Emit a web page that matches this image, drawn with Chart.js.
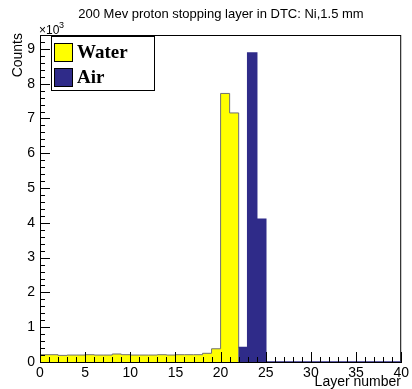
<!DOCTYPE html>
<html>
<head>
<meta charset="utf-8">
<script src="https://cdn.jsdelivr.net/npm/chart.js@4/dist/chart.umd.min.js"></script>
<style>
  html, body { margin: 0; background: #fff; }
  canvas { display: block; }
</style>
</head>
<body>
<canvas id="histo" width="412" height="389"></canvas>
<script>
// Contagens por camada (em unidades de 10^3), bin i = [i, i+1)
const WATER_COUNTS = [0.21, 0.21, 0.19, 0.20, 0.20, 0.21, 0.20, 0.20, 0.23, 0.21,
                      0.20, 0.20, 0.20, 0.21, 0.20, 0.21, 0.21, 0.21, 0.25, 0.38,
                      7.72, 7.16, 0, 0, 0, 0, 0, 0, 0, 0,
                      0, 0, 0, 0, 0, 0, 0, 0, 0, 0];
const AIR_COUNTS   = [0, 0, 0, 0, 0, 0, 0, 0, 0, 0,
                      0, 0, 0, 0, 0, 0, 0, 0, 0, 0,
                      0, 0, 0.42, 8.88, 4.10, 0, 0, 0, 0, 0,
                      0, 0, 0, 0, 0, 0, 0, 0, 0, 0];
const X_TICKS = [0, 5, 10, 15, 20, 25, 30, 35, 40];
const Y_TICKS = [0, 1, 2, 3, 4, 5, 6, 7, 8, 9];
const SERIES_NAMES = ['Water', 'Air'];

const X_MIN = 0, X_MAX = 40, Y_MAX = 9.4;
const COL_WATER = '#ffff00';
const COL_WATER_LINE = '#707070';
const COL_AIR = '#2f2b89';

// Pontos de histograma: borda esquerda de cada bin + borda final
function histPoints(counts, from, to) {
  const pts = [];
  for (let i = from; i < to; i++) pts.push({ x: i, y: counts[i] });
  pts.push({ x: to, y: 0 });
  return pts;
}

// Moldura + ticks internos + textos no estilo ROOT
const rootFrame = {
  id: 'rootFrame',
  beforeDatasetsDraw(chart) {
    const { ctx, chartArea: a } = chart;
    ctx.save();
    ctx.strokeStyle = '#000';
    ctx.lineWidth = 1;
    ctx.strokeRect(a.left + 0.5, a.top + 0.5, a.right - a.left - 1, a.bottom - a.top);
    ctx.restore();
  },
  afterDraw(chart) {
    const { ctx, chartArea: a, scales: { x, y } } = chart;
    ctx.save();
    ctx.strokeStyle = '#000';
    ctx.lineWidth = 1;
    ctx.beginPath();
    for (let v = X_MIN; v <= X_MAX; v++) {
      const px = Math.round(x.getPixelForValue(v)) + 0.5;
      const len = v % 5 === 0 ? 10 : 5;
      ctx.moveTo(px, a.bottom);
      ctx.lineTo(px, a.bottom - len);
    }
    for (let k = 0; k / 5 <= Y_MAX; k++) {
      const py = Math.round(y.getPixelForValue(k / 5)) + 0.5;
      const len = k % 5 === 0 ? 10 : 5;
      ctx.moveTo(a.left, py);
      ctx.lineTo(a.left + len, py);
    }
    ctx.stroke();

    ctx.fillStyle = '#000';
    // título
    ctx.font = "13px 'Liberation Sans', Arial, sans-serif";
    ctx.textAlign = 'center';
    ctx.textBaseline = 'alphabetic';
    ctx.fillText('200 Mev proton stopping layer in DTC: Ni,1.5 mm', 221, 18);

    // x10^3
    ctx.textAlign = 'left';
    ctx.font = "12px 'Liberation Sans', Arial, sans-serif";
    ctx.fillText('\u00d710', 39, 34);
    ctx.font = "9px 'Liberation Sans', Arial, sans-serif";
    ctx.fillText('3', 59, 28);

    // eixo x
    ctx.font = "14px 'Liberation Sans', Arial, sans-serif";
    ctx.textAlign = 'right';
    ctx.fillText('Layer number', 401, 386);

    // eixo y
    ctx.save();
    ctx.translate(22, 33);
    ctx.rotate(-Math.PI / 2);
    ctx.textAlign = 'right';
    ctx.fillText('Counts', 0, 0);
    ctx.restore();

    // legenda
    const lx = 51, ly = 36, lw = 103, lh = 54;
    ctx.fillStyle = '#fff';
    ctx.fillRect(lx, ly, lw, lh);
    ctx.strokeStyle = '#000';
    ctx.strokeRect(lx + 0.5, ly + 0.5, lw, lh);
    const swatches = [COL_WATER, COL_AIR];
    swatches.forEach((c, i) => {
      const sy = 43 + i * 25;
      ctx.fillStyle = c;
      ctx.fillRect(54, sy, 18, 18);
      ctx.strokeStyle = '#000';
      ctx.strokeRect(54.5, sy + 0.5, 18, 18);
      ctx.fillStyle = '#000';
      ctx.font = "bold 19px 'Liberation Serif', 'Times New Roman', serif";
      ctx.textAlign = 'left';
      ctx.fillText(SERIES_NAMES[i], 77, sy + 15);
    });
    ctx.restore();
  }
};

new Chart(document.getElementById('histo'), {
  type: 'line',
  data: {
    datasets: [
      {
        label: SERIES_NAMES[1],
        data: histPoints(AIR_COUNTS, 22, X_MAX),
        stepped: 'before',
        borderColor: COL_AIR,
        backgroundColor: COL_AIR,
        borderWidth: 1.5,
        pointRadius: 0,
        fill: 'origin',
        order: 1
      },
      {
        label: SERIES_NAMES[0],
        data: histPoints(WATER_COUNTS, 0, 22),
        stepped: 'before',
        borderColor: COL_WATER_LINE,
        backgroundColor: COL_WATER,
        borderWidth: 1,
        pointRadius: 0,
        fill: 'origin',
        order: 2
      }
    ]
  },
  options: {
    responsive: false,
    animation: false,
    devicePixelRatio: 1,
    layout: { padding: { top: 35, right: 9, left: 0, bottom: 0 } },
    plugins: { legend: { display: false }, title: { display: false }, tooltip: { enabled: false } },
    scales: {
      x: {
        type: 'linear',
        min: X_MIN,
        max: X_MAX,
        afterBuildTicks: s => { s.ticks = X_TICKS.map(v => ({ value: v })); },
        grid: { display: false, drawTicks: false },
        border: { display: true, color: '#000', width: 1 },
        ticks: { color: '#000', padding: 3, maxRotation: 0,
                 font: { family: "'Liberation Sans', Arial, sans-serif", size: 14 } },
        afterFit: s => { s.height = 27; }
      },
      y: {
        type: 'linear',
        min: 0,
        max: Y_MAX,
        afterBuildTicks: s => { s.ticks = Y_TICKS.map(v => ({ value: v })); },
        grid: { display: false, drawTicks: false },
        border: { display: true, color: '#000', width: 1 },
        ticks: { color: '#000', padding: 5,
                 font: { family: "'Liberation Sans', Arial, sans-serif", size: 14 } },
        afterFit: s => { s.width = 40; }
      }
    }
  },
  plugins: [rootFrame]
});
</script>
</body>
</html>
